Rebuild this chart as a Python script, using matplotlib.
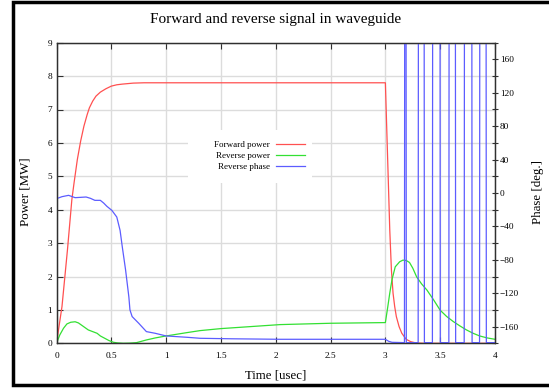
import numpy as np
import matplotlib
matplotlib.use('Agg')
import matplotlib.pyplot as plt
from matplotlib.patches import Rectangle
from matplotlib.lines import Line2D

plt.rcParams['font.family'] = ['Liberation Serif', 'DejaVu Serif']

# forward power [MW]
t_fwd = [0, 0.05, 0.1, 0.14, 0.16, 0.19, 0.22, 0.25, 0.28, 0.3, 0.33, 0.36, 0.4, 0.45,
         0.5, 0.55, 0.6, 0.7, 0.8, 1.0, 2.0, 3.0, 3.04, 3.055, 3.07, 3.085, 3.1,
         3.125, 3.15, 3.19, 3.23, 3.28, 3.35, 4.0]
p_fwd = [0, 1.1, 2.8, 4.3, 4.8, 5.5, 6.05, 6.5, 6.85, 7.05, 7.25, 7.4, 7.52, 7.62,
         7.7, 7.74, 7.76, 7.79, 7.8, 7.8, 7.8, 7.8, 3.4, 2.2, 1.5, 1.1, 0.8,
         0.5, 0.3, 0.12, 0.05, 0.01, 0.0, 0.0]

# reverse power [MW]
t_rev = [0, 0.03, 0.064, 0.095, 0.13, 0.17, 0.2, 0.23, 0.26, 0.29, 0.33, 0.37, 0.4,
         0.44, 0.48, 0.52, 0.56, 0.61, 0.67, 0.73, 0.82, 0.9, 1.0, 1.19, 1.31, 1.5,
         1.77, 2.04, 2.5, 3.0, 3.02, 3.04, 3.06, 3.09, 3.13, 3.16, 3.19, 3.22, 3.25,
         3.285, 3.33, 3.38, 3.44, 3.5, 3.56, 3.62, 3.68, 3.74, 3.8, 3.86, 3.93, 4.0]
p_rev = [0, 0.25, 0.45, 0.58, 0.63, 0.645, 0.61, 0.54, 0.47, 0.4, 0.35, 0.3, 0.22,
         0.15, 0.08, 0.03, 0.01, 0.0, 0.005, 0.02, 0.1, 0.16, 0.22, 0.32, 0.38, 0.44,
         0.5, 0.56, 0.6, 0.62, 1.05, 1.5, 1.9, 2.29, 2.44, 2.49, 2.48, 2.42, 2.25,
         1.99, 1.78, 1.59, 1.3, 0.99, 0.8, 0.65, 0.52, 0.4, 0.3, 0.22, 0.16, 0.12]

# reverse phase [deg]
t_ph = [0, 0.05, 0.11, 0.17, 0.22, 0.27, 0.31, 0.35, 0.4, 0.43, 0.46, 0.505, 0.55,
        0.58, 0.6, 0.63, 0.66, 0.67, 0.69, 0.75, 0.82, 0.9, 1.0, 1.19, 1.31, 1.6,
        2.04, 3.0, 3.03, 3.06, 3.174,
        3.176, 3.189, 3.191, 3.299, 3.301, 3.354, 3.356, 3.429, 3.431, 3.499,
        3.501, 3.579, 3.581, 3.639, 3.641, 3.719, 3.721, 3.789, 3.791, 3.859,
        3.861, 3.919, 3.921, 4.0]
ph_rev = [-6.8, -4.4, -2.8, -5.6, -5.2, -4.8, -6.4, -8.8, -8.8, -12, -16, -20.8, -28.8,
          -44.8, -64.4, -92, -124.4, -140, -148, -156, -166, -168, -171.2, -172.8, -174, -174.6,
          -175.2, -175.2, -177.6, -178.8, -179.2,
          179.2, 179.2, -179.2, -179.2, 179.2, 179.2, -179.2, -179.2, 179.2, 179.2,
          -179.2, -179.2, 179.2, 179.2, -179.2, -179.2, 179.2, 179.2, -179.2, -179.2,
          179.2, 179.2, -179.2, -179.2]

x_ticks = [0, 0.5, 1, 1.5, 2, 2.5, 3, 3.5, 4]
x_labels = ['0', '0.5', '1', '1.5', '2', '2.5', '3', '3.5', '4']
y_ticks = list(range(0, 10))
ph_ticks = list(range(-160, 161, 40))
ph_minor = list(range(-180, 181, 40))

W, H = 549, 389
fig = plt.figure(figsize=(W / 100, H / 100), dpi=100)
ax = fig.add_axes([56.5 / W, 1 - 343.3 / H, (495 - 56.5) / W, (343.3 - 42.7) / H])
ax2 = ax.twinx()

ax.set_axisbelow(True)
ax.grid(True, color='#dcdcdc', lw=1.0)
ax.set_xlim(0, 4)
ax.set_ylim(0, 9)
ax.set_xticks(x_ticks)
ax.set_xticklabels(x_labels)
ax.set_yticks(y_ticks)
ax.tick_params(axis='both', direction='in', length=4, width=0.8, color='#303030',
               labelsize=6.7, top=True, right=False)
ax.tick_params(axis='x', pad=6)
ax.tick_params(axis='y', pad=3)

# white box behind the key
ax.add_patch(Rectangle((188 / W, 1 - 183 / H), 124 / W, 53 / H, transform=fig.transFigure,
                       facecolor='white', edgecolor='none', zorder=1))

l1, = ax.plot(t_fwd, p_fwd, color='#ff5050', lw=0.9, label='Forward power', zorder=2)
l2, = ax.plot(t_rev, p_rev, color='#33e033', lw=0.9, label='Reverse power', zorder=2)
l3, = ax2.plot(t_ph, ph_rev, color='#5c5cff', lw=0.9, label='Reverse phase')

ax2.set_ylim(-180, 180)
ax2.set_yticks(ph_ticks)
ax2.set_yticks(ph_minor, minor=True)
ax2.tick_params(axis='y', which='both', direction='inout', length=5, width=0.8,
                color='#303030', labelsize=6.7, pad=1)

for a in (ax, ax2):
    for s in a.spines.values():
        s.set_color('#303030')
        s.set_linewidth(0.9)

ax2.legend(handles=[l1, l2, l3], loc='center right', bbox_to_anchor=(305 / W, 1 - 156 / H),
           bbox_transform=fig.transFigure, frameon=False, markerfirst=False, fontsize=6.5,
           handlelength=3.2, handletextpad=0.65, labelspacing=0.32, borderpad=0,
           borderaxespad=0)

fig.text(276 / W, 1 - 20 / H, 'Forward and reverse signal in waveguide', ha='center',
         va='center', fontsize=11)
fig.text(276 / W, 1 - 376 / H, 'Time [usec]', ha='center', va='center', fontsize=9.3)
fig.text(25 / W, 1 - 192 / H, 'Power [MW]', ha='center', va='center', rotation=90,
         fontsize=9.3)
fig.text(538 / W, 1 - 192.5 / H, 'Phase [deg.]', ha='center', va='center', rotation=90,
         fontsize=9.3)

# outer frame: top, left and bottom edges, open on the right
x0, y_top, y_bot = 12.7 / W, 1 - 1.7 / H, 1 - 385 / H
fig.add_artist(Line2D([1.0, x0, x0, 1.0], [y_top, y_top, y_bot, y_bot],
                      transform=fig.transFigure, color='black', lw=2.5,
                      solid_joinstyle='miter', solid_capstyle='butt'))

fig.savefig('out.png', dpi=100)
